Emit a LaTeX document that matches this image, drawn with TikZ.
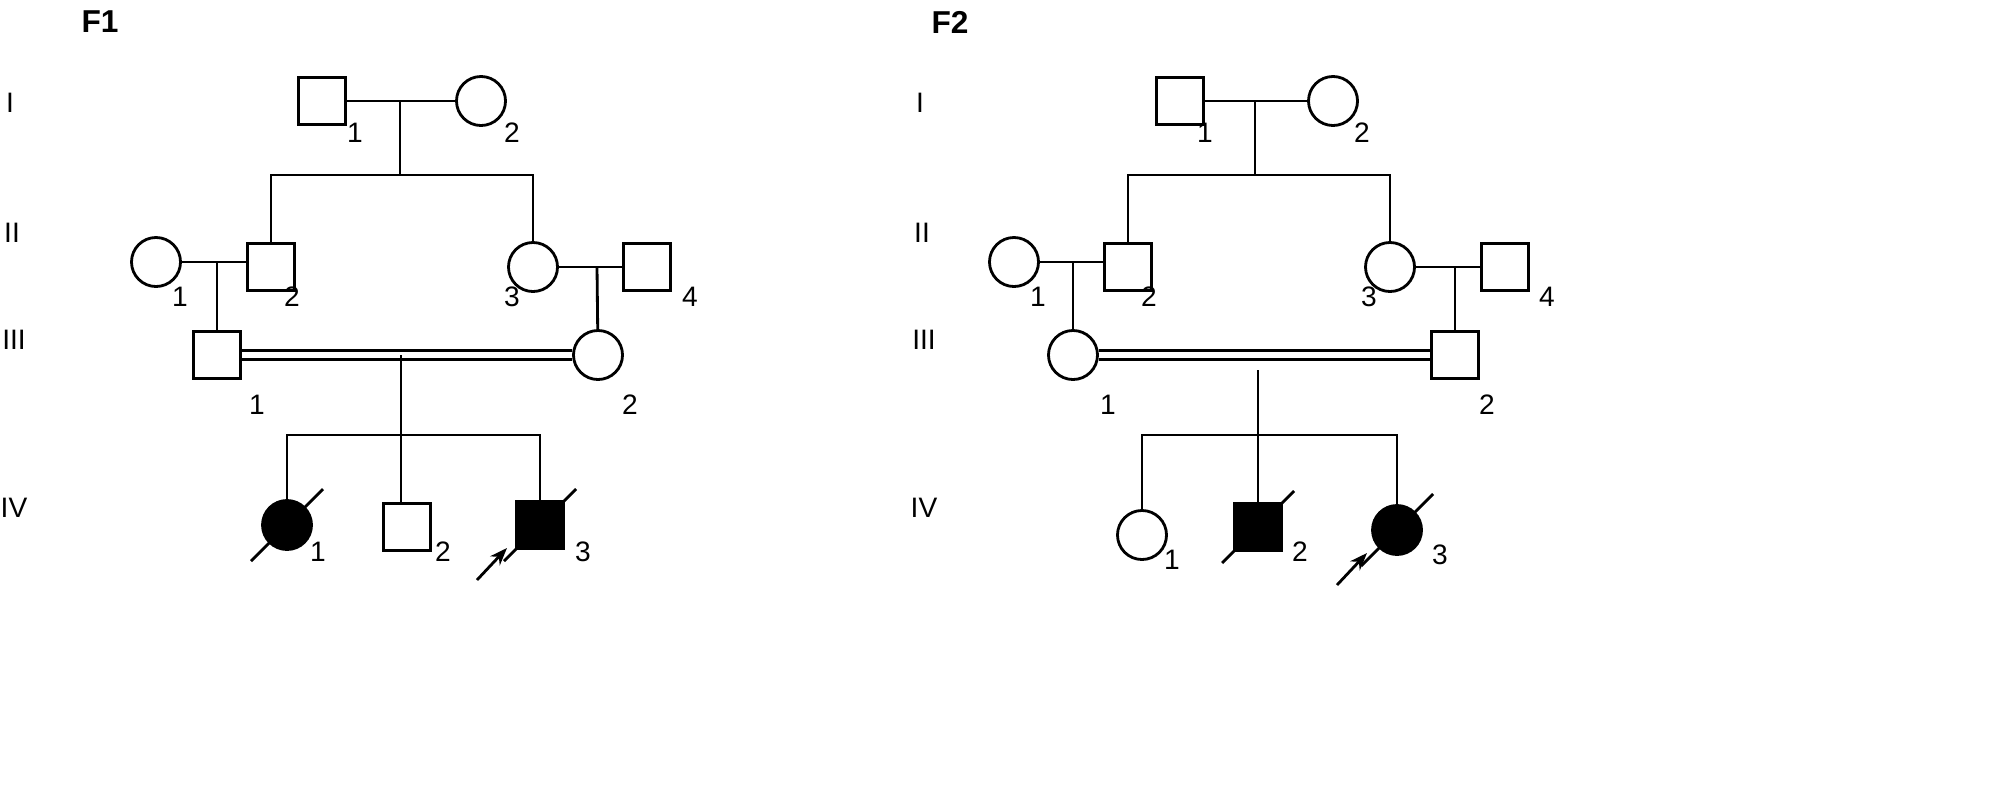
\documentclass[tikz,border=0pt]{standalone}
\usepackage{fontspec}
\setmainfont{Liberation Sans}
\usetikzlibrary{arrows.meta,positioning}
\tikzset{
    male/.style={
           rectangle, draw, thick,
           minimum size=0.47cm, inner sep=0pt,
           },
    female/.style={
           circle, draw, thick,
           minimum size=0.49cm, inner sep=0pt,
           },
    affected/.style={fill=black},
    num/.style={font=\fontsize{8}{10}\selectfont},
    gen/.style={font=\fontsize{8}{10}\selectfont},
    title/.style={font=\fontsize{9}{11}\selectfont\bfseries},
    line/.style={thick},
    dead/.style={thick},
}
\newcommand{\deceased}[1]{\draw[dead] ([shift={(-36,36)}]#1.center) -- ([shift={(36,-36)}]#1.center);}
\begin{document}
\begin{tikzpicture}[x=0.01cm,y=-0.01cm]
\useasboundingbox (0,0) rectangle (2013,800);
% family 1
\node[title] (t1) at (100,22) {F1};
\node[gen] (g1a) at (10,103) {I};
\node[gen] (g1b) at (12,233) {II};
\node[gen] (g1c) at (14,340) {III};
\node[gen] (g1d) at (14,508) {IV};
\node[male] (a1) at (322,101) {};
\node[female] (a2) at (481,101) {};
\node[male] (b2) at (271,267) {};
\node[female] (b1) at (156,262) {};
\node[female] (b3) at (533,267) {};
\node[male] (b4) at (647,267) {};
\node[male] (c1) at (217,355) {};
\node[female] (c2) at (598,355) {};
\node[female,affected] (d1) at (287,525) {};
\node[male] (d2) at (407,527) {};
\node[male,affected] (d3) at (540,525) {};
\coordinate (m1) at (400,101);
\coordinate (s1) at (400,175);
\coordinate (m2) at (217,262);
\coordinate (m3) at (597,267);
\coordinate (m4) at (401,355);
\coordinate (s4) at (401,435);
\draw[line] (a1) -- (a2);
\draw[line] (m1) -- (s1);
\draw[line] (b2.north) |- (s1) -| (b3.north);
\draw[line] (b1) -- (b1 -| b2.west);
\draw[line] (b3) -- (b4);
\draw[line] (m2) -- (c1);
\draw[line] (m3) -- (c2);
\draw[line] ([yshift=-1.2pt]c1.east) -- ([yshift=-1.2pt]c2.west);
\draw[line] ([yshift=1.2pt]c1.east) -- ([yshift=1.2pt]c2.west);
\draw[line] (m4) -- (s4);
\draw[line] (d1.north) |- (s4) -| (d3.north);
\draw[line] (s4) -- (s4 |- d2.north);
\deceased{d1}
\deceased{d3}
\coordinate (p1) at (477,580);
\coordinate (q1) at (507,548);
\draw[line,-{Stealth[length=5pt]}] (p1) -- (q1);
\node[num] at (355,133) {1};
\node[num] at (512,133) {2};
\node[num] at (180,297) {1};
\node[num] at (292,297) {2};
\node[num] at (512,297) {3};
\node[num] at (690,297) {4};
\node[num] at (257,405) {1};
\node[num] at (630,405) {2};
\node[num] at (318,552) {1};
\node[num] at (443,552) {2};
\node[num] at (583,552) {3};
% family 2
\node[title] (t2) at (950,22) {F2};
\node[gen] (h1a) at (920,103) {I};
\node[gen] (h1b) at (922,233) {II};
\node[gen] (h1c) at (924,340) {III};
\node[gen] (h1d) at (924,508) {IV};
\node[male] (e1) at (1180,101) {};
\node[female] (e2) at (1333,101) {};
\node[male] (f2) at (1128,267) {};
\node[female] (f1) at (1014,262) {};
\node[female] (f3) at (1390,267) {};
\node[male] (f4) at (1505,267) {};
\node[female] (k1) at (1073,355) {};
\node[male] (k2) at (1455,355) {};
\node[female] (l1) at (1142,535) {};
\node[male,affected] (l2) at (1258,527) {};
\node[female,affected] (l3) at (1397,530) {};
\coordinate (n1) at (1255,101);
\coordinate (r1) at (1255,175);
\coordinate (n2) at (1073,262);
\coordinate (n3) at (1455,267);
\coordinate (n4) at (1258,370);
\coordinate (r4) at (1258,435);
\draw[line] (e1) -- (e2);
\draw[line] (n1) -- (r1);
\draw[line] (f2.north) |- (r1) -| (f3.north);
\draw[line] (f1) -- (f1 -| f2.west);
\draw[line] (f3) -- (f4);
\draw[line] (n2) -- (k1);
\draw[line] (n3) -- (k2);
\draw[line] ([yshift=-1.2pt]k1.east) -- ([yshift=-1.2pt]k2.west);
\draw[line] ([yshift=1.2pt]k1.east) -- ([yshift=1.2pt]k2.west);
\draw[line] (n4) -- (r4);
\draw[line] (l1.north) |- (r4) -| (l3.north);
\draw[line] (r4) -- (l2);
\deceased{l2}
\deceased{l3}
\coordinate (p2) at (1337,585);
\coordinate (q2) at (1367,553);
\draw[line,-{Stealth[length=5pt]}] (p2) -- (q2);
\node[num] at (1205,133) {1};
\node[num] at (1362,133) {2};
\node[num] at (1038,297) {1};
\node[num] at (1149,297) {2};
\node[num] at (1369,297) {3};
\node[num] at (1547,297) {4};
\node[num] at (1108,405) {1};
\node[num] at (1487,405) {2};
\node[num] at (1172,560) {1};
\node[num] at (1300,552) {2};
\node[num] at (1440,555) {3};
\end{tikzpicture}
\end{document}
